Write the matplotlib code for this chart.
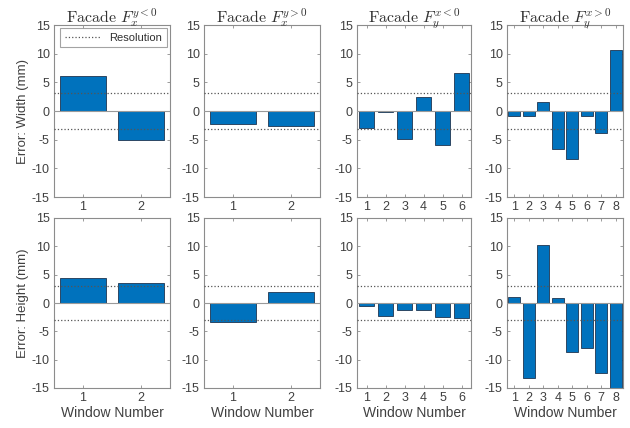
import matplotlib
matplotlib.use("Agg")
import matplotlib.pyplot as plt
import numpy as np

plt.rcParams['font.family'] = ['Liberation Sans', 'DejaVu Sans']
plt.rcParams['mathtext.fontset'] = 'cm'
plt.rcParams['axes.unicode_minus'] = False

# window errors (mm)
width_xneg = [6.1, -5.0]
width_xpos = [-2.2, -2.7]
width_yneg = [-2.9, -0.1, -4.9, 2.5, -6.0, 6.7]
width_ypos = [-0.9, -0.8, 1.5, -6.6, -8.4, -0.9, -3.8, 10.6]

height_xneg = [4.5, 3.5]
height_xpos = [-3.4, 1.9]
height_yneg = [-0.6, -2.3, -1.2, -1.3, -2.4, -2.7]
height_ypos = [1.0, -13.3, 10.3, 0.9, -8.6, -8.0, -12.4, -15.5]

titles = [r'$\mathrm{Facade}\ F_x^{y<0}$', r'$\mathrm{Facade}\ F_x^{y>0}$',
          r'$\mathrm{Facade}\ F_y^{x<0}$', r'$\mathrm{Facade}\ F_y^{x>0}$']
row_labels = ['Error: Width (mm)', 'Error: Height (mm)']
resolution = [3.15, 3.0]

rows = [[width_xneg, width_xpos, width_yneg, width_ypos],
        [height_xneg, height_xpos, height_yneg, height_ypos]]

bar_color = '#0072BD'
spine_gray = '#8c8c8c'
text_gray = '#404040'

fig = plt.figure(figsize=(6.3, 4.28), dpi=100)

lefts = [54, 204, 357, 507]
widths = [116, 116, 114, 116]
tops = [25, 218]
bottoms = [197, 388]

for r in range(2):
    for c in range(4):
        vals = rows[r][c]
        x = np.arange(1, len(vals) + 1)
        ax = fig.add_axes([lefts[c] / 630, 1 - bottoms[r] / 428,
                           widths[c] / 630, (bottoms[r] - tops[r]) / 428])
        ax.bar(x, vals, width=0.8, color=bar_color, edgecolor='#1f3550',
               linewidth=0.6, zorder=2)
        ax.axhline(0, color='#9a9a9a', linewidth=0.8, zorder=3)
        res = resolution[r]
        line, = ax.plot([0.5, len(vals) + 0.5], [res, res], ':', color='#555555',
                        linewidth=0.9, zorder=4, label='Resolution')
        ax.plot([0.5, len(vals) + 0.5], [-res, -res], ':', color='#555555',
                linewidth=0.9, zorder=4)
        ax.set_xlim(0.5, len(vals) + 0.5)
        ax.set_ylim(-15, 15)
        ax.set_xticks(x)
        ax.set_yticks([-15, -10, -5, 0, 5, 10, 15])
        ax.tick_params(direction='in', length=2.5, width=0.6, labelsize=9,
                       colors=spine_gray, labelcolor=text_gray, top=True, right=True,
                       pad=3)
        for s in ax.spines.values():
            s.set_color(spine_gray)
            s.set_linewidth(0.8)
        if r == 0:
            ax.set_title(titles[c], fontsize=11.5, pad=2, color='#303030')
        else:
            ax.set_xlabel('Window Number', fontsize=10, color=text_gray, labelpad=1)
        if c == 0:
            ax.set_ylabel(row_labels[r], fontsize=9.5, color=text_gray, labelpad=2)
        if r == 0 and c == 0:
            leg = ax.legend(handles=[line], loc='upper right', fontsize=8,
                            frameon=True, fancybox=False, borderaxespad=0.3,
                            handlelength=3.2, borderpad=0.4)
            leg.get_frame().set_edgecolor(spine_gray)
            leg.get_frame().set_linewidth(0.8)
            for t in leg.get_texts():
                t.set_color('#303030')

fig.savefig('out.png', dpi=100)
